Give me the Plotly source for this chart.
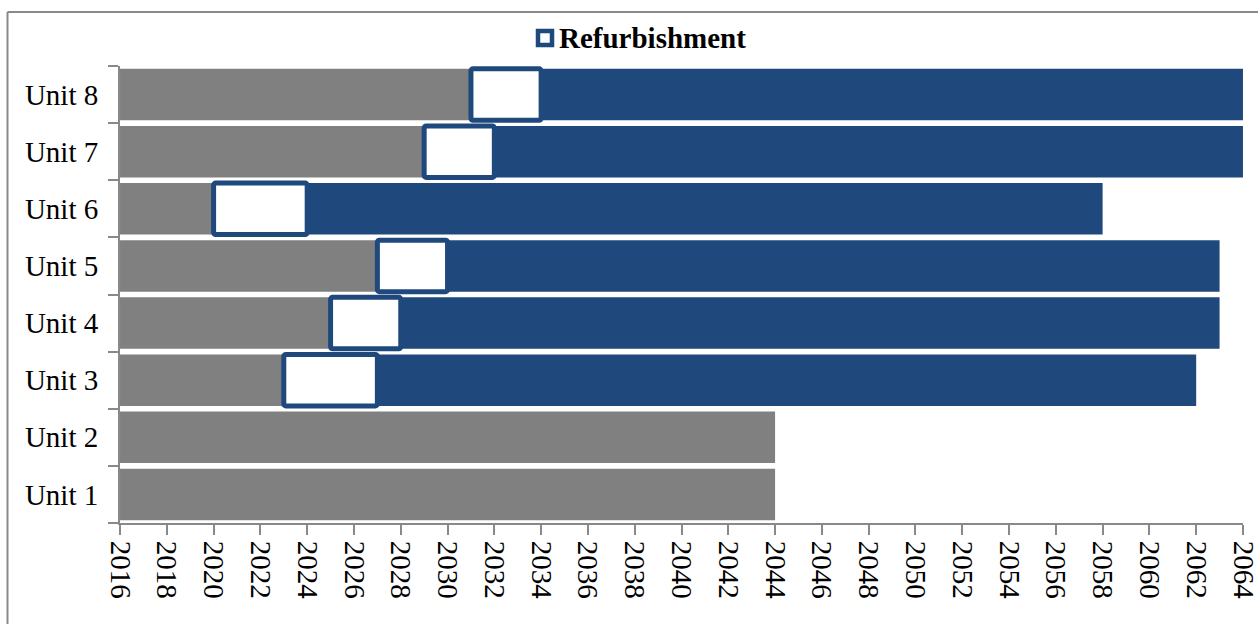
import plotly.graph_objects as go

units = ["Unit 1", "Unit 2", "Unit 3", "Unit 4", "Unit 5", "Unit 6", "Unit 7", "Unit 8"]
start_year = 2016
refurb_start = [None, None, 2023, 2025, 2027, 2020, 2029, 2031]
refurb_end = [None, None, 2027, 2028, 2030, 2024, 2032, 2034]
end_of_life = [2044, 2044, 2062, 2063, 2063, 2058, 2064, 2064]
x_ticks = list(range(2016, 2065, 2))

GRAY = "#808080"
BLUE = "#1F497D"
AXIS = "#898989"
FONT = "Liberation Serif"

gray_len, blue_base, blue_len, w_base, w_len = [], [], [], [], []
for rs, re, e in zip(refurb_start, refurb_end, end_of_life):
    if rs is None:
        gray_len.append(e - start_year)
        blue_base.append(None); blue_len.append(None)
        w_base.append(None); w_len.append(None)
    else:
        gray_len.append(rs - start_year)
        w_base.append(rs); w_len.append(re - rs)
        blue_base.append(re); blue_len.append(e - re)

fig = go.Figure()
fig.add_trace(go.Bar(y=units, x=gray_len, base=[start_year] * len(units), orientation="h",
                     marker=dict(color=GRAY, line=dict(width=0)), showlegend=False, name="Operation"))
fig.add_trace(go.Bar(y=units, x=blue_len, base=blue_base, orientation="h",
                     marker=dict(color=BLUE, line=dict(width=0)), showlegend=False, name="Extended"))
fig.add_trace(go.Bar(y=units, x=w_len, base=w_base, orientation="h",
                     marker=dict(color="white", line=dict(color=BLUE, width=5), cornerradius=2),
                     showlegend=False, name="Refurbishment"))

# target plot area on the page: x 120..1243, y 66..523
def px_x(p):
    return (p - 120) / 1123.0

def px_y(p):
    return (523 - p) / 457.0

fig.update_layout(
    width=1258, height=624,
    barmode="overlay", bargap=0.1,
    paper_bgcolor="white", plot_bgcolor="white",
    margin=dict(l=120, r=15, t=66, b=101, autoexpand=False),
    font=dict(family=FONT, size=29, color="black"),
    showlegend=False,
    xaxis=dict(range=[2015.999, 2064.001], tickmode="array", tickvals=x_ticks,
               ticktext=[str(t) for t in x_ticks], ticklabeloverflow="allow",
               tickangle=90, ticks="outside", ticklen=10, tickcolor=AXIS, tickwidth=2,
               showline=True, linecolor=AXIS, linewidth=2, showgrid=False, zeroline=False,
               automargin=False, tickfont=dict(family=FONT, size=29, color="black")),
    yaxis=dict(type="category", categoryorder="array", categoryarray=units,
               tickson="boundaries", ticks="outside", ticklen=10, tickcolor=AXIS, tickwidth=2,
               showline=True, linecolor=AXIS, linewidth=2, showgrid=False, automargin=False,
               ticklabelstandoff=14, tickfont=dict(family=FONT, size=29, color="black")),
    shapes=[
        dict(type="line", xref="paper", yref="paper", x0=px_x(7.5), x1=px_x(7.5), y0=px_y(12), y1=px_y(700),
             line=dict(color=AXIS, width=2)),
        dict(type="line", xref="paper", yref="paper", x0=px_x(7.5), x1=px_x(1300), y0=px_y(12), y1=px_y(12),
             line=dict(color=AXIS, width=2)),
        # legend key for Refurbishment
        dict(type="rect", xref="paper", yref="paper", x0=px_x(538), x1=px_x(552), y0=px_y(45), y1=px_y(31),
             fillcolor="white", line=dict(color=BLUE, width=4.5)),
    ],
    annotations=[
        dict(text="<b>Refurbishment</b>", xref="paper", yref="paper", x=px_x(557), y=px_y(38),
             xanchor="left", yanchor="middle", showarrow=False,
             font=dict(family=FONT, size=29, color="black")),
    ],
)

fig.write_html(
    "out.html",
    config={"displayModeBar": False},
    post_script="document.body.style.margin='0';document.body.style.overflow='hidden';"
                "document.documentElement.style.overflow='hidden';",
)
